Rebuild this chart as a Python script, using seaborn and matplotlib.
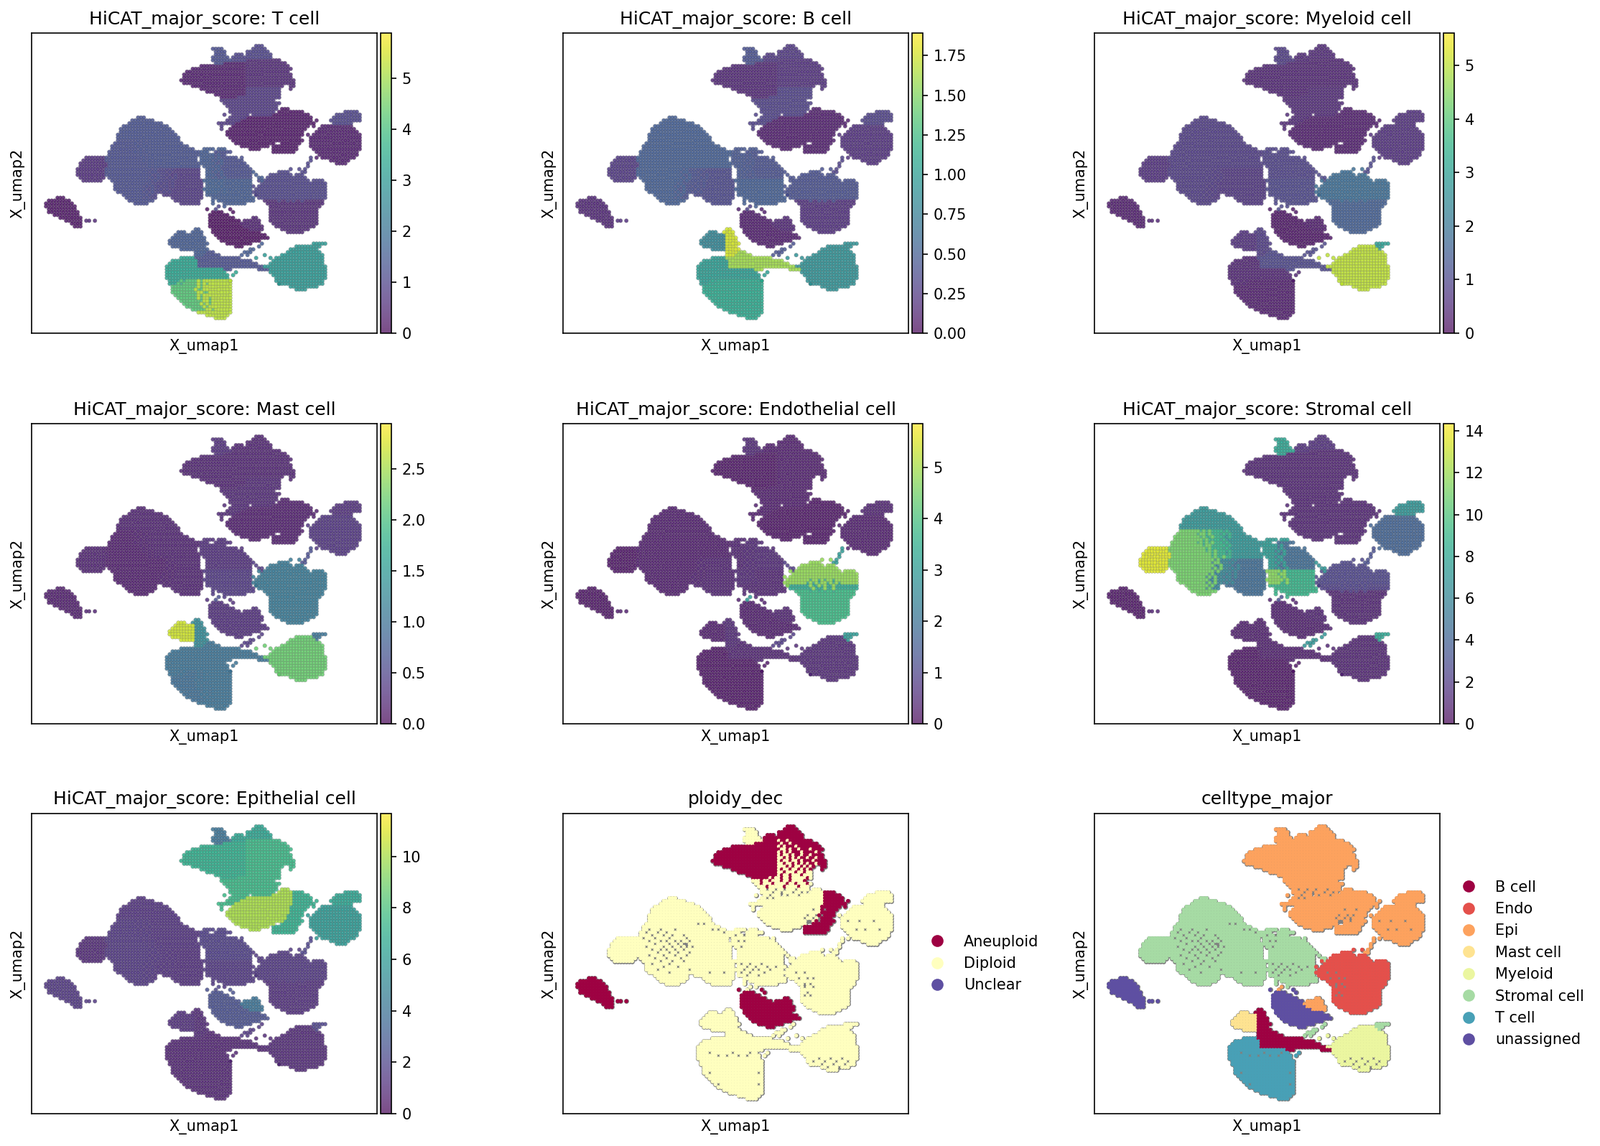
import re
import matplotlib
matplotlib.use('Agg')
import matplotlib.pyplot as plt
import pandas as pd
import seaborn as sns
from matplotlib.cm import ScalarMappable
from matplotlib.colors import Normalize
from matplotlib.lines import Line2D

# cell map, one entry per row from the top.
# 'A53-75' = region A from column 53 to 75, '76:BgB' = one letter per column
cell_rows = [
    '', '', '', '', 'D79-81',
    'E64-67 D78-82',
    'E65-68 D76-83',
    'E65-68 D72-74 D76-84',
    'E64-69 D71-84',
    'E64-70 D71-75 76:gBBgBBBBBBBB',
    'E65-67 A68-75 76:BgBBgBBBBBBBBB',
    'A60-75 76:gBgBBBgBBBBBBBB',
    'A57-75 76:BggBgBBgBBBgBBBB',
    'A55-75 76:gBgBgBBBgBBBBgB',
    'A54-75 76:gBggBgBBgBBgBBBB',
    'A54-75 76:ggBgBgBgBBgBBgBB',
    'A53-75 76:gBggBggBgBBBgBBBB',
    'A54-75 76:ggBggBgBgBgBBgBBB',
    'A57-75 76:gggBgBggBgBgB B91-92',
    'A60-75 76:fCffCffCfCfC B91',
    'A62-75 76:ffCfffCffCff',
    'A65-75 76:fCffCfffCfff',
    'A67-72 73:fCffCffCfffffCf',
    '67:fffCffCfffCffCffffC',
    '68:ffCfffCffffCffCfffCf',
    '69:fffCfffffCffffCfff',
    'f70-86 F88-90',
    'H110-114 f70-85 F87-91 G92-95',
    'f71-76 f78-84 F85-91 G92-97 H107-115',
    'L38-40 f70-75 F76-91 G92-98 H106-115',
    'L36-43 f70-73 F74-91 G92-98 H105-115',
    'L35-46 f66 f68-71 F72-91 G92-98 H106-112',
    'L33-48 F71-90 G91-97 I102-112',
    'L32-49 f67 F70-90 G91-96 I101-113',
    'L32-50 F69-90 G91-95 I100-114',
    'L31-51 F69-89 G90-95 I99-115',
    'L31-52 F70-89 G90-94 I98-115',
    'K31-36 37:KlKlKl l43-44 45:lLlL L49-52 F71-88 G89-94 I98-115',
    'K30-36 37:lKKlKl l43-44 45:LlLl L49-53 F72-85 G88-93 I98-115',
    'K29-36 37:KlKllK l43-44 45:lLLl L49-55 F74-83 G85-93 I98-115',
    'K29-36 37:KKlKll l43-44 45:LlLL L49-57 n61-64 n66-68 F77-80 G85-93 I99-115',
    'K28-36 37:lKlKlK l43-45 46:LlLL L50-59 n60-62 N65-69 G85-92 I100-114',
    'K28-37 38:KlKKll l44-45 46:lLlL L50-59 n60-63 64:nNn N67-68 I101-114',
    'J20-26 K27-38 39:KlKll l44-45 46:LlL L49-58 n60-63 64:nNnNN N69-72 I102-113 R98',
    'J19-26 K27-39 40:lKlKl l45 46:lLl L49-58 n60-63 64:NnNnN N69-74 I105-111 R98',
    'J18-27 K28-40 41:KlKll l46 47:LlL L50-59 n60-63 64:nNNnN N69-75 I107-110 R97',
    'J18-27 K28-41 42:lKllK l47 48:lL L50-59 n61-63 64:NnnNN N69-76 R97',
    'J17-26 K27-41 42:KhKhh h47 48:hMhM M52-59 n62-63 64:nNnNN N69-77 R96',
    'J17-26 K27-41 42:hKKhh h47 48:MhMM M52-59 n62-63 64:NnNnN N69-77 P87-90 R95-96',
    'J17-26 K27-41 42:KhhKh h47 48:hMMh M52-59 n62-63 64:nNNnN N69-77 P84-91 P93-95',
    'J18-26 K28-41 42:hKhKh h47 48:MhMh M52-59 n62-63 64:NnNNn N69-77 e80-81 P83-96',
    'J19-25 K29-41 42:KhKhh h47 48:hMhM M52-60 o61-64 65:oOoOO O70-77 e81 P82-97 P99-102',
    'K30-39 40:KhKhh h45 46:hMhMh M51-60 o62-64 65:OooOO O70-77 P81-103',
    'K30-39 40:hKhKh h45 46:MhhMh M51-60 o62-64 65:oOoOO O70-77 P80-103',
    'K30-39 40:KhhKh h45 46:hMhMM M51-60 o61-64 65:ooOoO O70-77 P80-85 86:PpPPpPpPPpPP P98-103',
    'K31-39 40:hKhKh h45 46:MhMhM M51-60 o62-64 65:oOOoO O70-77 P79-85 86:pPpPpPPpPpPp P98-103',
    'K33-39 40:KhKh h44 M47-60 O62-77 p79-85 86:pPppPpPppPpp p98-103',
    'S10-12 K34-39 40:hKhh h44 M50-60 O64-77 p80-85 86:ppPpppPppPpp p98-103',
    'S7-14 K35-43 M51-59 O66-77 Q82-85 86:QpQQpQpQQpQQ Q98-102',
    'S6-15 K37-41 M53-59 O68-75 Q83-102',
    'S6-16 R66 Q84-101',
    'S7-16 R65 Q84-100',
    'S7-17 U64-67 Q84-100',
    'S9-17 U63-69 Q84-100',
    'S11-18 U63-71 V78-79 Q84-100',
    'S13-18 T20-21 T23 U63-73 V75-80 Q84-100',
    'S15-18 U63-73 V74-80 Q85-100',
    'S16-18 U63-74 V75-81 Q86-99',
    'X58-59 U64-76 V77-81 Q88-97',
    'W52-54 X57-60 U64-80 Q90-95',
    'W51-57 X58-60 U65-82',
    'W50-57 X58-61 U66-83',
    'W49-57 X58-61 U67-80',
    'W49-57 X58-62 U69-77 c99-103',
    'W50-57 X58-61 U72-74 b93-98 c99-101',
    'W53-57 X58-62 e77-78 b91-99 c100',
    'X58-61 Y62-64 e76-77 b90-101',
    'X58-60 Y61-66 e76 b88-102',
    'Z53-57 Y58-72 b86-102',
    'Z50-58 Y59-77 b85-102',
    'Z49-58 Y59-79 b84-102',
    'Z48-58 Y59-81 b82-103',
    'Z48-67 Y68-70 Y80-83 b84-103',
    'Z48-68 b84-103',
    'Z48-69 b85-103',
    'Z48-69 b86-103',
    'Z49-51 52:ZdZd d56-57 58:dadaa a63-70 b86-102',
    'Z49-51 52:dZdd d56-58 59:adada a64-70 b87-102',
    'd50-57 58:dadaa a63-70 b91-100',
    'd50-57 58:addaa a63-70 b93-96',
    'd50-57 58:daadd a63-70',
    'd51-57 58:dadaa a63-70',
    'd52-58 59:adaad a64-70',
    'd53-59 60:daada a65-70',
    'd54-59 60:adada a65-70',
    'd55-60 61:adaa a65-70',
    'd57-60 61:daad a65-70',
    'a59-70',
    'a62-69',
    'a65-68',
]

# single cells lying outside the blobs (column, row, region)
stray_cells = [
    (67, 31, 'f'), (68, 28, 'f'), (67, 32, 'f'), (69, 30, 'f'), (99, 31, 'G'), (100, 30, 'G'), (99, 32, 'G'),
    (97, 35, 'I'), (95, 37, 'G'), (94, 38, 'G'), (78, 48, 'e'), (79, 49, 'e'), (80, 51, 'P'), (78, 53, 'P'),
    (78, 55, 'P'), (79, 54, 'P'), (78, 57, 'O'), (78, 58, 'O'), (79, 56, 'P'), (64, 58, 'O'), (64, 59, 'O'),
    (62, 61, 'U'), (70, 61, 'U'), (71, 62, 'U'), (68, 60, 'O'), (74, 77, 'e'), (75, 76, 'e'), (80, 74, 'e'),
    (81, 73, 'e'), (82, 77, 'b'), (84, 78, 'b'), (79, 78, 'b'), (87, 87, 'b'), (91, 47, 'P'), (94, 47, 'P'),
    (100, 43, 'I'), (74, 43, 'N'), (70, 41, 'N'), (71, 84, 'Z'), (72, 83, 'Z'), (70, 86, 'a'), (73, 78, 'Y'),
]

# cells where the picture shows only the grey outline in the category panels (row: columns)
grey_cells = [
    '26:72,75,78,82', '27:74,77,81,84', '28:73,79,83', '29:72,74', '33:88,92', '35:86,89,91', '36:85,88,90',
    '37:86,87,90,100,104,109', '38:87,48,50', '40:31,35,40,55,53,103,106,111', '41:30,34,37,57', '42:32,36,39,43,61,64',
    '43:29,33,38,44', '44:31,35,37,40,42,45,62,64', '45:33,38,41,43,44', '46:30,36,39,42,44,46,63',
    '47:32,35,37,40,43', '48:34,38,41,45', '49:31,36,40,44', '50:33,37,42', '51:35,39,43', '52:32,38,63,66,70',
    '53:36,41,65,68,72,75', '54:34,45,64,67,69,73', '55:38,52,57,63,66,71,82,85', '56:65,69', '57:83,86,88',
    '59:85,87', '60:85,88', '62:86', '63:85,87', '83:52,60,66', '84:55,58,62,65', '85:90,94,98', '86:88,92,96,100',
    '87:91,95,99', '88:93,97', '90:52,69', '94:55,69',
]

regions = list('ABCDEFGHIJKLMNOPQRSTUVWXYZabcdefghlnop')
t_cell = [.3, .5, .8, 1, 1.2, .2, .2, 1, .3, .6, 1.2, 1.3, .8, 1.2, 1.5, 1, .5, 1, .2, .5, .1, .4, 1.5, 1.5, 1.2, 3.3, 5.2, 3, 3, 4.2, 1.5, .8, .5, 1, 1.3, 1.5, 1.6, 1]
b_cell = [.15, .2, .3, .25, .4, .1, .1, .3, .2, .25, .5, .5, .35, .4, .5, .4, .2, .3, .15, .2, .1, .15, .8, 1.75, 1.6, 1, 1.1, .9, .9, 1.1, .4, .3, .2, .4, .5, .45, .5, .4]
myeloid = [.4, .4, .5, .5, .8, .3, .3, .6, .6, .6, .8, .8, .7, .9, 1, 1.8, 1.5, 1, .3, .4, .2, .3, .6, .8, 1, .4, .3, 5, 3, .3, 1, .5, .4, .7, .8, .9, 1, 1.8]
mast = [.2, .2, .25, .2, .3, .15, .15, .3, .35, .2, .15, .2, .2, .3, .4, 1.1, 1.1, .6, .15, .2, .3, .3, 2.7, 1.3, 1, 1, 1, 2.2, 1, .95, .4, .25, .2, .15, .2, .3, .4, 1.1]
endothelial = [.2, .3, .3, .3, .5, .2, .2, .4, .3, .2, .3, .3, .4, .5, .4, 4.8, 3.8, 3, .2, .3, .3, .4, .3, .5, .4, .2, .2, .5, 3, .2, .8, .3, .3, .3, .3, .4, .5, 3.4]
stromal = [1, 1, 1, 1.5, 8, 1, 1, 7, 4, 13.5, 11, 7, 4.5, 4.5, 9, 2.5, 1, 3, .5, 1, .8, 1, .8, .8, .8, .5, .5, 1, 8, .5, 7, 1, 1, 6, 9, 7.5, 11.5, 2.2]
epithelial = [7, 7.5, 7.5, 6.5, 4, 10, 7, 6.5, 6, 1, 1.5, 1.3, 1.2, 1.8, 1.5, 1.5, 1.2, 2, 1.5, 1.5, 2.5, 4, 1.2, 1, .8, .8, .8, 1, 2, .8, 1.5, 7.5, 7.5, 1.3, 1.3, 1.8, 1.5, 1.5]
ploidy = ['Aneuploid', 'Aneuploid', 'Aneuploid', 'Aneuploid', 'Diploid', 'Diploid', 'Aneuploid', 'Diploid', 'Diploid',
          'Diploid', 'Diploid', 'Diploid', 'Diploid', 'Diploid', 'Diploid', 'Diploid', 'Diploid', 'Diploid', 'Aneuploid',
          'Aneuploid', 'Aneuploid', 'Aneuploid', 'Diploid', 'Diploid', 'Diploid', 'Diploid', 'Diploid', 'Diploid', 'Diploid',
          'Diploid', 'Diploid', 'Diploid', 'Diploid', 'Diploid', 'Diploid', 'Diploid', 'Diploid', 'Diploid']
celltype = ['Epi', 'Epi', 'Epi', 'Epi', 'Epi', 'Epi', 'Epi', 'Epi', 'Epi', 'Stromal cell', 'Stromal cell', 'Stromal cell',
            'Stromal cell', 'Stromal cell', 'Stromal cell', 'Endo', 'Endo', 'Epi', 'unassigned', 'unassigned', 'unassigned',
            'Epi', 'Mast cell', 'B cell', 'B cell', 'T cell', 'T cell', 'Myeloid', 'Stromal cell', 'T cell', 'Stromal cell',
            'Epi', 'Epi', 'Stromal cell', 'Stromal cell', 'Stromal cell', 'Stromal cell', 'Endo']

score_panels = [
    ('T cell', t_cell, 5.88),
    ('B cell', b_cell, 1.892),
    ('Myeloid cell', myeloid, 5.61),
    ('Mast cell', mast, 2.94),
    ('Endothelial cell', endothelial, 5.85),
    ('Stromal cell', stromal, 14.34),
    ('Epithelial cell', epithelial, 11.67),
]
ploidy_order = ['Aneuploid', 'Diploid', 'Unclear']
ploidy_colors = ['#9e0142', '#ffffbf', '#5e4fa2']
celltype_order = ['B cell', 'Endo', 'Epi', 'Mast cell', 'Myeloid', 'Stromal cell', 'T cell', 'unassigned']
celltype_colors = ['#9e0142', '#e4504b', '#fda25e', '#fee391', '#ebf6a0', '#a6dba4', '#48a0b6', '#5e4fa2']

cells = []
for row, text in enumerate(cell_rows):
    for token in text.split():
        if ':' in token:
            start, letters = token.split(':')
            for i, letter in enumerate(letters):
                cells.append((int(start) + i, -row, letter))
        else:
            letter, first, last = re.fullmatch(r'([A-Za-z])(\d+)(?:-(\d+))?', token).groups()
            for col in range(int(first), int(last or first) + 1):
                cells.append((col, -row, letter))
cells += [(col, -row, letter) for col, row, letter in stray_cells]
df = pd.DataFrame(cells, columns=['X_umap1', 'X_umap2', 'region'])
for name, values, vmax in score_panels:
    df[name] = df['region'].map(dict(zip(regions, values)))
df['ploidy_dec'] = df['region'].map(dict(zip(regions, ploidy)))
df['celltype_major'] = df['region'].map(dict(zip(regions, celltype)))

grey = set()
for text in grey_cells:
    row, cols = text.split(':')
    grey.update((int(col), -int(row)) for col in cols.split(','))
filled = df[[(x, y) not in grey for x, y in zip(df['X_umap1'], df['X_umap2'])]]

W, H = 2228, 1596
fig = plt.figure(figsize=(W / 150, H / 150), dpi=150)
lefts = [44, 784, 1524]
tops = [46, 590, 1133]


def make_ax(i):
    x0, y0 = lefts[i % 3], tops[i // 3]
    return fig.add_axes([x0 / W, 1 - (y0 + 418) / H, 481 / W, 418 / H])


def finish(ax, title):
    ax.set_xlim(1, 121)
    ax.set_ylim(-104.25, 0.5)
    ax.set_xticks([])
    ax.set_yticks([])
    ax.set_xlabel('X_umap1')
    ax.set_ylabel('X_umap2')
    ax.set_title(title, fontsize=12)


for i, (name, values, vmax) in enumerate(score_panels):
    ax = make_ax(i)
    sns.scatterplot(data=df.sort_values(name), x='X_umap1', y='X_umap2', hue=name, palette='viridis',
                    hue_norm=(0, vmax), s=7, alpha=0.8, edgecolor='#808080', linewidth=0.2,
                    legend=False, ax=ax)
    finish(ax, 'HiCAT_major_score: ' + name)
    pos = ax.get_position()
    cax = fig.add_axes([pos.x1 + 5 / W, pos.y0, 15 / W, pos.height])
    fig.colorbar(ScalarMappable(Normalize(0, vmax), 'viridis'), cax=cax, alpha=0.7)

for i, (name, order, colors) in enumerate([('ploidy_dec', ploidy_order, ploidy_colors),
                                           ('celltype_major', celltype_order, celltype_colors)]):
    ax = make_ax(7 + i)
    sns.scatterplot(data=df, x='X_umap1', y='X_umap2', color='#808080', s=11, linewidth=0, legend=False, ax=ax)
    sns.scatterplot(data=filled, x='X_umap1', y='X_umap2', hue=name, hue_order=order, palette=colors,
                    s=7, linewidth=0, legend=False, ax=ax)
    finish(ax, name)
    handles = [Line2D([], [], ls='', marker='o', color=c, markersize=7, label=l) for l, c in zip(order, colors)]
    ax.legend(handles=handles, loc='center left', bbox_to_anchor=(1, 0.5), frameon=False)

fig.savefig('out.png', dpi=150)
